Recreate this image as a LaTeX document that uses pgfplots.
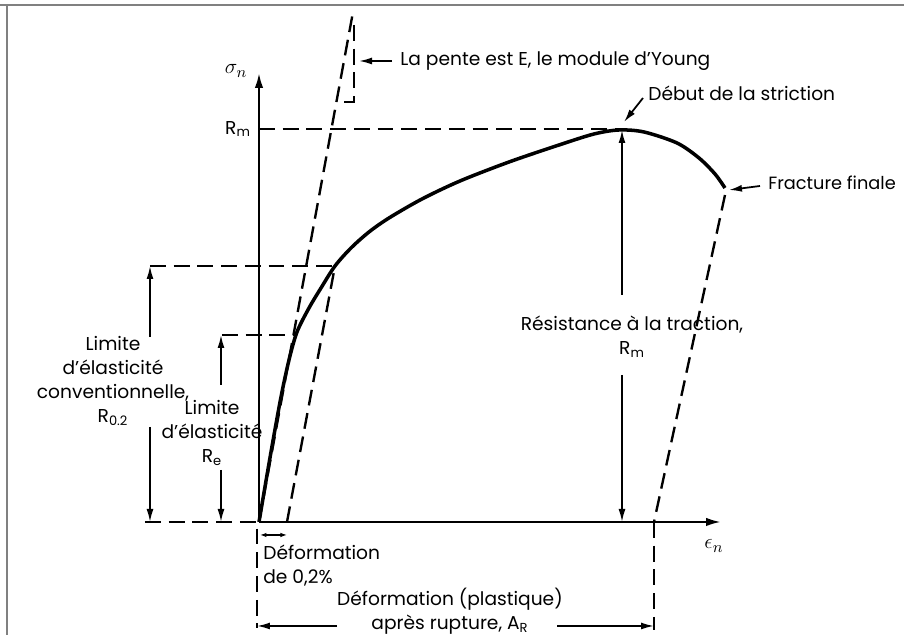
\documentclass[border=0pt]{standalone}
\usepackage{fontspec}
\setmainfont{Poppins}
\usepackage{pgfplots}
\pgfplotsset{compat=1.18}
\usetikzlibrary{arrows.meta}
\begin{document}
\begin{tikzpicture}[
  txt/.style={font=\fontsize{10.6}{13.5}\selectfont, inner sep=0pt},
  dsh/.style={line width=1.35pt, dash pattern=on 9pt off 4.5pt},
  arr/.style={line width=1pt, -{Latex[length=2.6mm,width=1.4mm]}}
]
\begin{axis}[
  width=92.4mm, height=89.8mm, scale only axis,
  xmin=0, xmax=462, ymin=0, ymax=449,
  axis lines=left,
  axis line style={line width=1.3pt, -{Latex[length=3mm,width=1.7mm]}},
  xtick=\empty, ytick=\empty,
  clip=false
]
% courbe de traction
\addplot[line width=2pt, smooth, mark=none] coordinates {
  (0,0) (12,70) (22,125) (30,162) (38,190) (50,214) (62,234) (76,256)
  (92,274) (110,290) (130,304) (163,323) (201,341) (250,360) (300,377)
  (335,388) (360,392) (385,390) (418,379) (440,364) (456,348) (466,334)};
% droites en tirets
\addplot[dsh] coordinates {(0,0) (94,510)};
\addplot[dsh] coordinates {(28,0) (76,256)};
\addplot[dsh] coordinates {(466,327) (395,0)};
\addplot[dsh] coordinates {(0,393) (363,393)};
\addplot[dsh] coordinates {(-109,256) (76,256)};
\addplot[dsh] coordinates {(-37,187) (35,187)};
\addplot[dsh] coordinates {(-114,0) (-2,0) (-2,-106)};
\addplot[dsh] coordinates {(395,0) (395,-108)};
\addplot[dsh] coordinates {(95,497) (95,420) (79,420)};
% cadre
\addplot[gray, line width=0.8pt] coordinates {(-259,517) (645,517)};
\addplot[gray, line width=0.8pt] coordinates {(-252,517) (-252,-113)};
% fleches
\draw[arr] (axis cs:-109,185) -- (axis cs:-109,256);
\draw[arr] (axis cs:-109,95) -- (axis cs:-109,0);
\draw[arr] (axis cs:-38,137) -- (axis cs:-38,187);
\draw[arr] (axis cs:-38,52) -- (axis cs:-38,0);
\draw[arr] (axis cs:363,227) -- (axis cs:363,392);
\draw[arr] (axis cs:363,147) -- (axis cs:363,0);
\draw[arr] (axis cs:133,461) -- (axis cs:100,461);
\draw[arr] (axis cs:384,424) -- (axis cs:365,400);
\draw[arr] (axis cs:501,336) -- (axis cs:470,332);
\draw[arr] (axis cs:78,-104) -- (axis cs:-2,-104);
\draw[arr] (axis cs:298,-104) -- (axis cs:395,-104);
\draw[line width=0.7pt, {Latex[length=1.3mm,width=0.9mm]}-{Latex[length=1.3mm,width=0.9mm]}]
  (axis cs:1,-13) -- (axis cs:28,-13);
% textes
\node[txt, anchor=west] at (axis cs:141,461) {La pente est E, le module d'Young};
\node[txt, anchor=west] at (axis cs:389,429) {Début de la striction};
\node[txt, anchor=west, font=\fontsize{10.1}{13}\selectfont] at (axis cs:509,339) {Fracture finale};
\node[txt, font=\fontsize{13}{15}\selectfont] at (axis cs:-23,451) {$\sigma_n$};
\node[txt] at (axis cs:-21,393) {R\textsubscript{m}};
\node[txt, align=center] at (axis cs:-146,141) {Limite\\d'élasticité\\conventionnelle,\\R\textsubscript{0.2}};
\node[txt, align=center] at (axis cs:-47,89) {Limite\\d'élasticité\\R\textsubscript{e}};
\node[txt, align=center] at (axis cs:373,185) {Résistance à la traction,\\R\textsubscript{m}};
\node[txt, align=left, anchor=north west] at (axis cs:4,-23) {Déformation\\de 0,2\%};
\node[txt, align=center] at (axis cs:191,-89) {Déformation (plastique)\\après rupture, A\textsubscript{R}};
\node[txt, font=\fontsize{13}{15}\selectfont] at (axis cs:455,-24) {$\epsilon_n$};
\coordinate (bl) at (axis cs:-259,-113);
\coordinate (tr) at (axis cs:645,522);
\end{axis}
\pgfresetboundingbox
\path (bl) rectangle (tr);
\end{tikzpicture}
\end{document}
